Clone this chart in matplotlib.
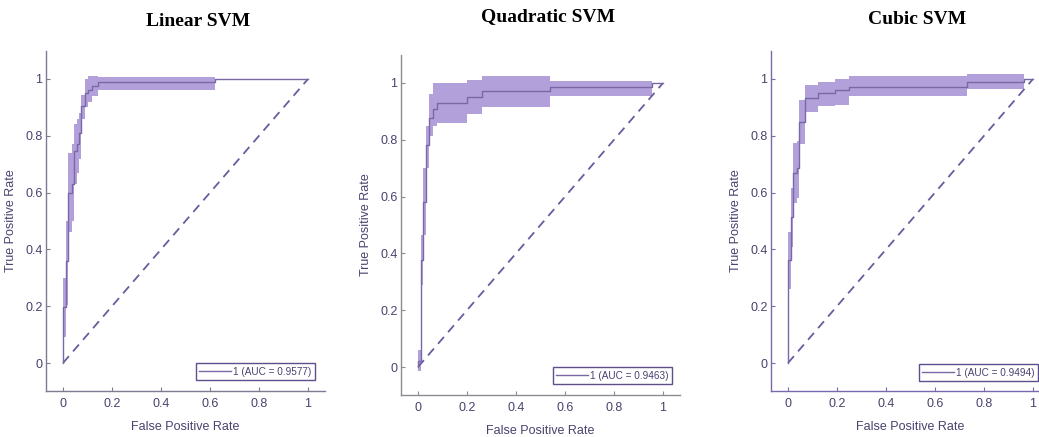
import matplotlib
matplotlib.use('Agg')
from matplotlib import pyplot as plt

# ROC curves with bootstrap confidence bands, one per SVM kernel
titles = ['Linear SVM', 'Quadratic SVM', 'Cubic SVM']
auc = [0.9577, 0.9463, 0.9494]

lin_fpr = [0.000, 0.000, 0.011, 0.020, 0.035, 0.045, 0.058, 0.066, 0.075, 0.090, 0.100, 0.118, 0.143, 0.620, 1.000]
lin_tpr = [0.000, 0.197, 0.360, 0.600, 0.630, 0.745, 0.770, 0.810, 0.905, 0.950, 0.960, 0.975, 0.988, 1.000, 1.000]
lin_lo = [0.000, 0.090, 0.205, 0.460, 0.500, 0.630, 0.670, 0.720, 0.860, 0.900, 0.920, 0.940, 0.960, 1.000, 1.000]
lin_hi = [0.000, 0.300, 0.500, 0.740, 0.770, 0.840, 0.860, 0.880, 0.945, 1.000, 1.012, 1.010, 1.008, 1.000, 1.000]

quad_fpr = [0.000, 0.000, 0.012, 0.022, 0.033, 0.045, 0.063, 0.077, 0.200, 0.260, 0.540, 0.954, 1.000]
quad_tpr = [0.000, 0.020, 0.377, 0.580, 0.780, 0.875, 0.910, 0.930, 0.950, 0.973, 0.985, 1.000, 1.000]
quad_lo = [-0.015, -0.015, 0.290, 0.465, 0.700, 0.815, 0.850, 0.860, 0.890, 0.915, 0.955, 1.000, 1.000]
quad_hi = [0.060, 0.060, 0.465, 0.700, 0.850, 0.960, 1.000, 1.000, 1.010, 1.025, 1.008, 1.000, 1.000]

cub_fpr = [0.000, 0.000, 0.012, 0.022, 0.035, 0.046, 0.069, 0.123, 0.190, 0.249, 0.730, 0.963, 1.000]
cub_tpr = [0.000, 0.363, 0.515, 0.670, 0.686, 0.850, 0.932, 0.950, 0.961, 0.973, 0.990, 1.000, 1.000]
cub_lo = [0.000, 0.260, 0.410, 0.565, 0.580, 0.770, 0.885, 0.905, 0.910, 0.940, 0.965, 1.000, 1.000]
cub_hi = [0.000, 0.460, 0.615, 0.775, 0.780, 0.925, 0.980, 0.990, 1.000, 1.010, 1.018, 1.000, 1.000]

curves = [(lin_fpr, lin_tpr, lin_lo, lin_hi),
          (quad_fpr, quad_tpr, quad_lo, quad_hi),
          (cub_fpr, cub_tpr, cub_lo, cub_hi)]

ticks = [0, 0.2, 0.4, 0.6, 0.8, 1]
tick_labels = ['0', '0.2', '0.4', '0.6', '0.8', '1']

W, H = 1039, 437
# pixel position of the (0, 0) corner of each panel, 245 px per unit in x, 284 in y
origins = [(63, 363), (418, 367), (788, 363)]
sx, sy = 245.0, 284.0
xlim = (-0.07, 1.07)
ylim = (-0.1, 1.1)
title_pos = [(198, 22), (548, 17), (917, 20)]
spine_cols = ['#7f7a92', '#8c8a93', '#7a68ae']
leg_anchor = [(0.964, 0.033), (0.971, 0.033), (0.957, 0.03)]

text_col = '#4b416e'
band_col = '#ae9bd9'
line_col = '#7a68a6'
diag_col = '#6b5b9e'

plt.rcParams['font.family'] = ['Liberation Sans', 'DejaVu Sans']

fig = plt.figure(figsize=(W / 100, H / 100), dpi=100)

for i in range(3):
    ox, oy = origins[i]
    left = ox + xlim[0] * sx
    bottom = oy - ylim[0] * sy
    w = (xlim[1] - xlim[0]) * sx
    h = (ylim[1] - ylim[0]) * sy
    ax = fig.add_axes([left / W, (H - bottom) / H, w / W, h / H])

    fpr, tpr, lo, hi = curves[i]
    ax.fill_between(fpr[:-1], lo[:-1], hi[:-1], step='post',
                    color=band_col, alpha=0.95, linewidth=0)
    ax.plot([0, 1], [0, 1], '--', color=diag_col, lw=1.3, dashes=(5, 3.5))
    ax.step(fpr, tpr, where='post', color=line_col, lw=1.0,
            label='1 (AUC = %.4f)' % auc[i])

    ax.set_xlim(*xlim)
    ax.set_ylim(*ylim)
    ax.set_xticks(ticks)
    ax.set_xticklabels(tick_labels)
    ax.set_yticks(ticks)
    ax.set_yticklabels(tick_labels)
    ax.tick_params(direction='in', length=3, width=0.8, colors=spine_cols[i],
                   labelcolor=text_col, labelsize=9)
    ax.tick_params(axis='x', pad=5)
    ax.tick_params(axis='y', pad=2.5)
    for s in ['top', 'right']:
        ax.spines[s].set_visible(False)
    for s in ['left', 'bottom']:
        ax.spines[s].set_color(spine_cols[i])
        ax.spines[s].set_linewidth(1.0)

    ax.set_xlabel('False Positive Rate', color=text_col, fontsize=9)
    ax.set_ylabel('True Positive Rate', color=text_col, fontsize=9)
    ax.xaxis.set_label_coords(0.5, -0.087)
    ax.yaxis.set_label_coords(-0.105, 0.5)

    leg = ax.legend(loc='lower right', bbox_to_anchor=leg_anchor[i],
                    borderaxespad=0, fancybox=False, framealpha=1,
                    fontsize=7.2, handlelength=3.2, handletextpad=0.2,
                    borderpad=0.35, labelcolor=text_col)
    leg.get_frame().set_edgecolor('#5e4f8c')
    leg.get_frame().set_linewidth(1.0)

    tx, ty = title_pos[i]
    fig.text(tx / W, 1 - ty / H, titles[i], ha='center', va='center',
             fontsize=14, fontweight='bold', family='Liberation Serif')

fig.savefig('out.png', dpi=100)
